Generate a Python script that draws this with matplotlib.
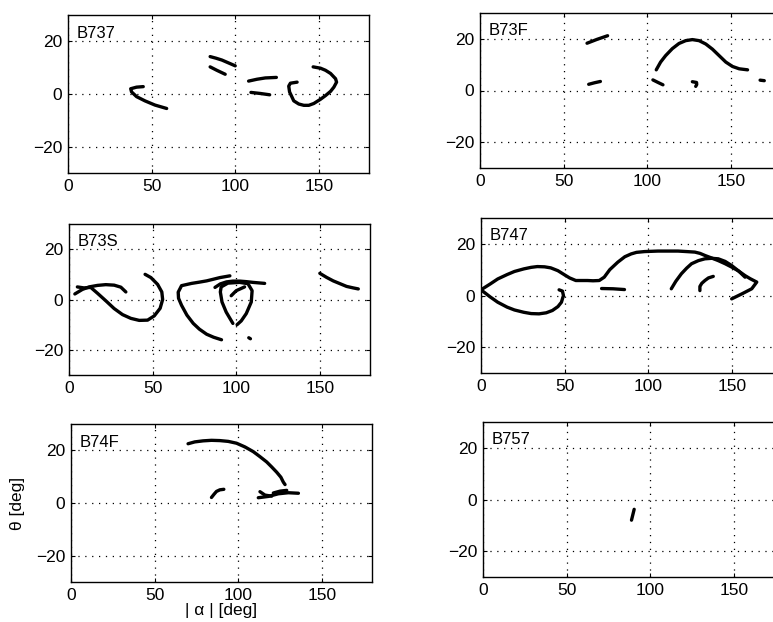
import matplotlib
matplotlib.use("Agg")
import matplotlib.pyplot as plt

plt.rcParams['font.family'] = ['Liberation Sans', 'DejaVu Sans']

# ---------------- data (alpha |deg|, theta deg) ----------------
panel_names = ["B737", "B73F", "B73S", "B747", "B74F", "B757"]

b737_alpha = [
    [45, 41, 37.5, 38, 41, 46, 52, 59],
    [85, 88.5, 92, 96, 100],
    [85, 89, 94],
    [108, 113, 118, 124.6],
    [109.4, 115, 120.6],
    [137, 133, 132, 132.5, 135, 138, 141, 144, 147, 151, 154, 157, 159, 160.6, 160, 157, 154, 151, 146.6],
]
b737_theta = [
    [2.8, 2.6, 2.0, 0.8, -1.0, -2.6, -4.2, -5.5],
    [14.2, 13.6, 12.9, 11.8, 10.7],
    [10.3, 9.0, 7.5],
    [4.9, 5.6, 6.1, 6.3],
    [0.6, 0.2, -0.3],
    [4.5, 4.1, 3.0, 0.8, -2.6, -3.8, -4.3, -4.3, -3.6, -2.0, -0.6, 1.0, 2.6, 4.5, 5.8, 7.8, 9.0, 9.8, 10.3],
]

b73f_alpha = [
    [64, 70, 76.3],
    [65, 68.5, 72],
    [105.4, 108, 111, 115, 119, 123, 127, 131, 135, 139, 143, 147, 151, 155, 160],
    [103.4, 106.5, 109.4],
    [127, 129.5, 129.6, 129],
    [167.5, 170],
]
b73f_theta = [
    [18.3, 19.8, 21.2],
    [2.4, 3.0, 3.5],
    [8.0, 11.0, 13.5, 16.2, 18.2, 19.3, 19.7, 19.3, 18.0, 16.0, 13.5, 11.0, 9.3, 8.4, 8.0],
    [4.1, 3.1, 2.2],
    [3.4, 3.1, 2.3, 1.6],
    [4.0, 3.8],
]

b73s_alpha = [
    [3.5, 8, 12, 17, 22, 27, 31, 34],
    [5, 9, 13, 17, 22, 27, 32, 37, 42, 47, 51, 54.5, 56, 55.5, 53, 49, 45.5],
    [91.2, 86.5, 82.3, 78, 74.3, 70.5, 67.3, 65.5, 65.3, 67.3, 73.3, 78, 82.3, 86, 90.2, 96.2],
    [87.3, 90.5, 94.2, 98, 102.2, 106, 110, 117],
    [98, 94, 91.5, 90.5, 91, 95, 102, 107, 109.5, 109, 106, 103, 100.5],
    [97, 100, 105],
    [107.5, 108.5],
    [150, 154, 158, 162, 166, 170, 173],
]
b73s_theta = [
    [2.2, 4.0, 5.0, 5.6, 5.9, 5.7, 4.9, 3.0],
    [5.0, 4.6, 4.8, 2.5, -0.5, -3.6, -6.0, -7.5, -8.3, -8.2, -6.5, -3.5, 0.0, 3.0, 6.0, 8.7, 10.0],
    [-16.0, -15.0, -13.8, -11.8, -9.5, -6.2, -2.3, 0.5, 2.9, 5.5, 6.4, 6.9, 7.4, 8.0, 8.7, 9.4],
    [4.8, 6.2, 7.0, 7.3, 7.3, 7.1, 6.8, 6.4],
    [-9.5, -5.0, -1.0, 3.0, 5.0, 6.5, 6.8, 6.3, 3.5, -1.0, -5.6, -8.5, -10.0],
    [1.5, 3.5, 5.0],
    [-15.2, -15.6],
    [10.4, 8.8, 7.4, 6.3, 5.2, 4.6, 4.2],
]

b747_alpha = [
    [0, 5.6, 10, 15.6, 20, 25.6, 30, 33.7, 38, 41.7, 46, 49.7, 53, 56.7, 60, 63.7, 67, 70.7, 73.7, 77, 81.8, 86,
     89.8, 93, 97.8, 105.8, 112, 117.8, 123, 127.9, 131, 133.9, 138, 141.9, 146, 149.9, 154, 157.9, 161, 164.9,
     161.9, 155.9, 149.9],
    [0, 5.6, 10, 15.6, 20, 25.6, 30, 34.7, 39, 42.7, 46, 48.1, 49.3, 48.7, 46.7],
    [72.1, 79, 85.8],
    [113.8, 116.5, 119.8, 123, 125.9, 130, 133.9, 138, 141.9, 146, 149.9, 154, 157.9],
    [138.9, 136, 133.9, 132, 130.9, 130.9],
]
b747_theta = [
    [2.2, 4.5, 6.4, 8.1, 9.3, 10.3, 10.9, 11.2, 11.1, 10.7, 9.6, 8.1, 6.8, 5.8, 5.8, 5.8, 5.7, 5.8, 7.1, 10.0, 12.9,
     15.0, 16.1, 16.7, 17.0, 17.2, 17.2, 17.2, 17.0, 16.8, 16.3, 15.5, 14.5, 13.5, 12.3, 11.0, 9.5, 7.7, 6.5, 5.2,
     2.6, 0.6, -1.3],
    [2.2, -0.6, -2.6, -4.5, -5.6, -6.5, -7.0, -7.1, -6.7, -5.8, -4.3, -2.6, 0.0, 1.7, 2.2],
    [2.7, 2.6, 2.3],
    [2.6, 5.5, 8.4, 10.6, 12.3, 13.5, 14.2, 14.4, 14.2, 13.2, 11.6, 9.5, 7.1],
    [7.4, 6.8, 5.8, 4.7, 3.5, 1.9],
]

b74f_alpha = [
    [70, 74, 79, 84, 89, 94, 99, 104, 109, 113, 117, 120, 123, 125.5, 127, 128],
    [84, 85.5, 87, 89, 91.4],
    [112, 118, 124, 130, 136],
    [113, 116, 120],
    [121, 125, 129],
]
b74f_theta = [
    [22.5, 23.2, 23.6, 23.8, 23.7, 23.4, 22.7, 21.3, 19.5, 17.6, 15.6, 13.7, 11.7, 9.8, 7.9, 7.0],
    [2.1, 3.3, 4.4, 5.0, 5.2],
    [2.0, 2.5, 3.5, 3.9, 3.7],
    [4.3, 3.0, 2.6],
    [3.8, 4.5, 4.8],
]

b757_alpha = [
    [90.4, 89.6, 88.8],
]
b757_theta = [
    [-3.8, -5.9, -8.0],
]

panel_alpha = [b737_alpha, b73f_alpha, b73s_alpha, b747_alpha, b74f_alpha, b757_alpha]
panel_theta = [b737_theta, b73f_theta, b73s_theta, b747_theta, b74f_theta, b757_theta]

x_ticks = [0, 50, 100, 150]
y_ticks = [-20, 0, 20]

# ---------------- layout (pixels -> figure fraction) ----------------
W, H = 773, 622
# (left, top, bottom) in pixels; width is ~300 px for 0..180
boxes = [
    (68, 15, 173),
    (480, 13, 168),
    (69, 224, 375),
    (481, 218, 373),
    (71, 424, 582),
    (483, 422, 577),
]
AX_W = 301

fig = plt.figure(figsize=(W / 100, H / 100), dpi=100)
fig.patch.set_facecolor('white')

axes = []
for i, (l, t, b) in enumerate(boxes):
    ax = fig.add_axes([l / W, 1 - b / H, AX_W / W, (b - t) / H])
    axes.append(ax)
    for xs, ys in zip(panel_alpha[i], panel_theta[i]):
        ax.plot(xs, ys, color='black', lw=2.4, solid_capstyle='round', solid_joinstyle='round')
    ax.set_xlim(0, 180)
    ax.set_ylim(-30, 30)
    ax.set_xticks(x_ticks)
    ax.set_yticks(y_ticks)
    ax.set_yticklabels(['\u221220', '0', '20'])
    ax.grid(True, color='black', linestyle=(0, (1, 4.5)), linewidth=0.9)
    ax.tick_params(direction='in', length=3, width=0.8, labelsize=12.5, pad=4,
                   top=True, right=True, colors='black')
    for s in ax.spines.values():
        s.set_linewidth(1.0)
        s.set_color('black')
    ax.text(0.03, 0.855, panel_names[i], transform=ax.transAxes, fontsize=12,
            ha='left', va='baseline', color='black')

axes[4].set_ylabel('\u03b8 [deg]', fontsize=12.5, labelpad=8)
axes[4].set_xlabel('| \u03b1 | [deg]', fontsize=12.5, labelpad=0)

fig.savefig('out.png', dpi=100, facecolor='white')
